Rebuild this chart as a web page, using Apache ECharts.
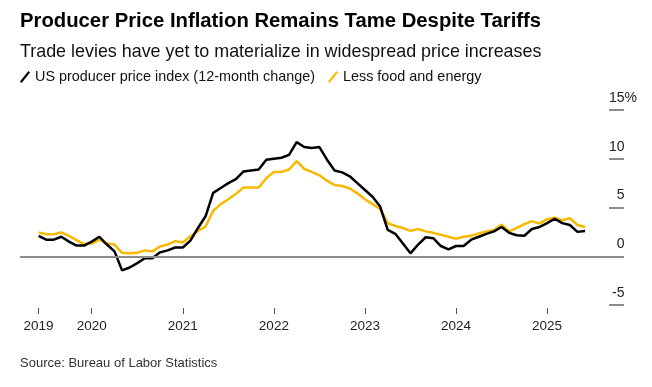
<!DOCTYPE html>
<html><head><meta charset="utf-8">
<script src="https://cdn.jsdelivr.net/npm/echarts@6/dist/echarts.min.js"></script>
<style>html,body{margin:0;padding:0;background:#fff}#c{width:652px;height:387px}</style>
</head><body><div id="c"></div>
<script>
// Monthly observations, May 2019 – May 2025 (12-month % change)
const startYear = 2019, startMonth = 5, monthCount = 73;
const months = [];
for (let i = 0; i < monthCount; i++) {
  const m = startMonth - 1 + i;
  months.push((startYear + Math.floor(m / 12)) + '-' + String(m % 12 + 1).padStart(2, '0'));
}
const ppi = [
  2.1, 1.7, 1.7, 2.0, 1.5, 1.1, 1.1, 1.5,
  2.0, 1.2, 0.5, -1.45, -1.15, -0.7, -0.2, -0.2, 0.4, 0.6, 0.9, 0.9,
  1.6, 2.9, 4.1, 6.5, 7.0, 7.5, 7.9, 8.7, 8.8, 8.9, 9.9, 10.0,
  10.1, 10.4, 11.7, 11.2, 11.1, 11.2, 9.9, 8.8, 8.6, 8.2, 7.5, 6.8,
  6.1, 5.1, 2.7, 2.3, 1.3, 0.3, 1.2, 1.95, 1.85, 1.05, 0.7, 1.05,
  1.05, 1.7, 2.0, 2.3, 2.55, 3.0, 2.4, 2.15, 2.1, 2.8, 3.0, 3.4,
  3.85, 3.4, 3.2, 2.5, 2.6
];
const core = [
  2.45, 2.25, 2.25, 2.45, 2.1, 1.65, 1.25, 1.3,
  1.7, 1.3, 1.2, 0.35, 0.3, 0.35, 0.6, 0.5, 1.0, 1.2, 1.55, 1.4,
  2.05, 2.6, 3.05, 4.65, 5.35, 5.85, 6.4, 7.05, 7.05, 7.05, 8.0, 8.65,
  8.65, 8.9, 9.75, 8.95, 8.65, 8.3, 7.75, 7.3, 7.2, 6.95, 6.45, 5.85,
  5.35, 4.85, 3.4, 3.1, 2.9, 2.6, 2.8, 2.55, 2.4, 2.2, 2.0, 1.8,
  2.0, 2.1, 2.35, 2.55, 2.7, 3.25, 2.55, 2.9, 3.3, 3.6, 3.35, 3.8,
  3.95, 3.7, 3.9, 3.2, 3.0
];
const yearLabels = ['2019', '2020', '2021', '2022', '2023', '2024', '2025'];
const yTicks = [-5, 0, 5, 10, 15];

const seriesNames = ['US producer price index (12-month change)', 'Less food and energy'];
const colors = ['#000000', '#f7b800'];
const FONT = '"Liberation Sans", Arial, sans-serif';

// month-end position in months since Jan 1, 2019
function mpos(s) { const p = s.split('-').map(Number); return (p[0] - 2019) * 12 + p[1]; }
const yearPos = yearLabels.map((y, i) => i === 0 ? mpos(months[0]) : (Number(y) - 2019) * 12);

const chart = echarts.init(document.getElementById('c'));
chart.setOption({
  animation: false,
  backgroundColor: '#fff',
  title: [
    { text: 'Producer Price Inflation Remains Tame Despite Tariffs', left: 15, top: 6,
      textStyle: { fontFamily: FONT, fontSize: 20.3, fontWeight: 'bold', color: '#000' } },
    { text: 'Trade levies have yet to materialize in widespread price increases', left: 15, top: 38,
      textStyle: { fontFamily: FONT, fontSize: 17.9, fontWeight: 'normal', color: '#111' } },
    { text: 'Source: Bureau of Labor Statistics', left: 15, top: 352,
      textStyle: { fontFamily: FONT, fontSize: 13, fontWeight: 'normal', color: '#333' } }
  ],
  legend: {
    left: 15, top: 65, itemWidth: 10, itemHeight: 12, itemGap: 13,
    icon: 'path://M0,10.6 L1.6,12 L10,1.4 L8.4,0 Z',
    textStyle: { fontFamily: FONT, fontSize: 14.4, color: '#111' },
    data: seriesNames
  },
  grid: { left: 20, right: 28, top: 110, height: 195 },
  xAxis: {
    type: 'value', min: 2.55, max: 82.13, offset: 3,
    axisLine: { show: false, onZero: false },
    splitLine: { show: false },
    axisTick: { show: true, length: 6, lineStyle: { color: '#555', width: 1 }, customValues: yearPos },
    axisLabel: { customValues: yearPos, margin: 11, fontFamily: FONT, fontSize: 13.5, color: '#222',
      formatter: v => { let k = 0, d = 1e9; yearPos.forEach((p, i) => { if (Math.abs(p - v) < d) { d = Math.abs(p - v); k = i; } }); return yearLabels[k]; } }
  },
  yAxis: {
    type: 'value', position: 'right', min: -5, max: 15, interval: 5,
    axisLine: { show: false },
    splitLine: { show: false },
    axisTick: { show: true, inside: true, length: 15, lineStyle: { color: '#8c8c8c', width: 2 } },
    axisLabel: {
      margin: 13, align: 'right', verticalAlign: 'bottom', padding: [0, 0, 5, 0],
      fontFamily: FONT, fontSize: 14, color: '#222',
      formatter: v => v === 15 ? v + '{p|%}' : v + '{h|%}',
      rich: { p: { fontFamily: FONT, fontSize: 14, color: '#222' }, h: { fontFamily: FONT, fontSize: 14, color: 'rgba(0,0,0,0)' } }
    }
  },
  series: [
    { name: seriesNames[1], type: 'line', symbol: 'none', z: 2,
      data: core.map((v, i) => [mpos(months[i]), v]),
      lineStyle: { color: colors[1], width: 2.5 }, itemStyle: { color: colors[1] },
      markLine: { silent: true, symbol: 'none', label: { show: false },
        lineStyle: { color: '#8c8c8c', width: 2, type: 'solid' }, data: [{ yAxis: 0 }] } },
    { name: seriesNames[0], type: 'line', symbol: 'none', z: 3,
      data: ppi.map((v, i) => [mpos(months[i]), v]),
      lineStyle: { color: colors[0], width: 2.5 }, itemStyle: { color: colors[0] } }
  ]
});
</script></body></html>
